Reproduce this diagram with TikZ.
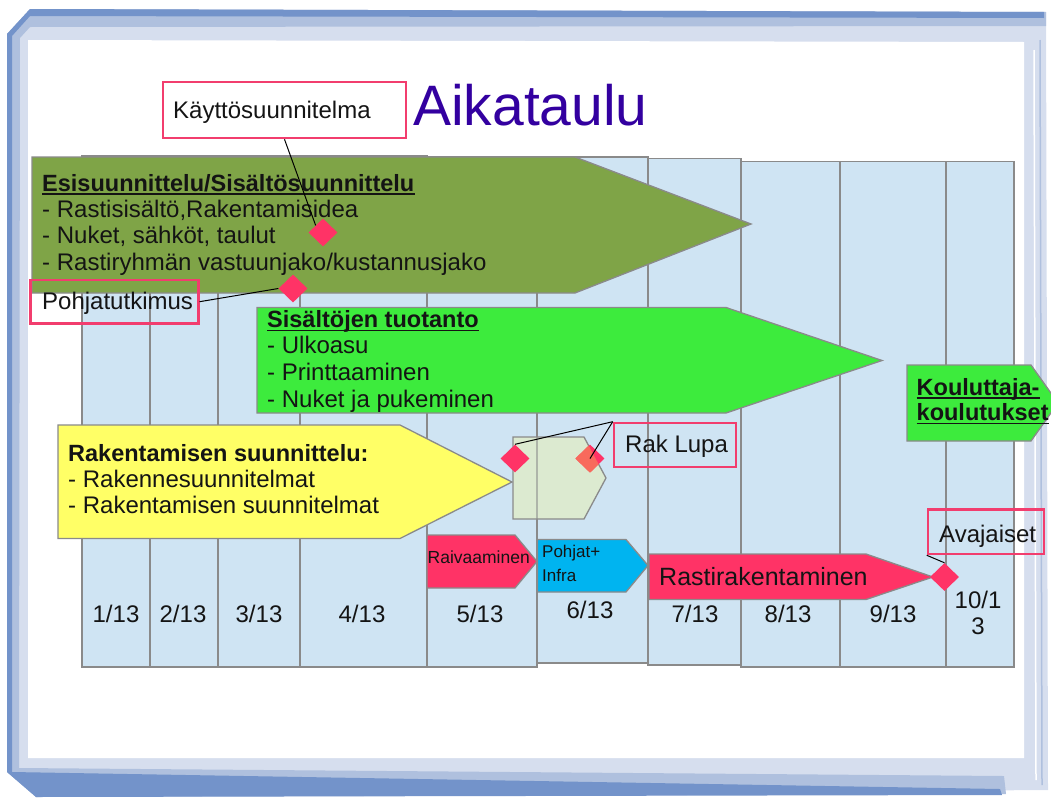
\documentclass[tikz,border=0pt]{standalone}
\usepackage{fontspec}
\setmainfont{Liberation Sans}
\usetikzlibrary{shapes.geometric}
\definecolor{colblue}{HTML}{CFE4F3}
\definecolor{gridgray}{HTML}{8A8A8A}
\definecolor{olive}{HTML}{7FA447}
\definecolor{brightgreen}{HTML}{3DEB3D}
\definecolor{yel}{HTML}{FFFF66}
\definecolor{palegreen}{HTML}{DCEAD0}
\definecolor{pinkc}{HTML}{FF3366}
\definecolor{salmon}{HTML}{F86A5C}
\definecolor{cyanc}{HTML}{00B4F0}
\definecolor{pinkbox}{HTML}{F23D6E}
\definecolor{titlec}{HTML}{3300A0}
\definecolor{txtc}{HTML}{141414}
\definecolor{frmdark}{HTML}{7393CA}
\definecolor{frmmid}{HTML}{AFC0DE}
\definecolor{frmlight}{HTML}{D6DEEE}
\begin{document}
\begin{tikzpicture}[x=1pt,y=-1pt,
  col/.style={fill=colblue,draw=gridgray,line width=1.3pt},
  shp/.style={draw=gridgray,line width=1.3pt},
  dia/.style={diamond,fill=pinkc,minimum width=29pt,minimum height=28pt,inner sep=0pt},
  pbox/.style={draw=pinkbox,line width=2.6pt,inner sep=0pt},
  txt/.style={anchor=base west,inner sep=0pt,font=\fontsize{24}{26}\selectfont,text=txtc},
  btxt/.style={anchor=base west,inner sep=0pt,font=\bfseries\fontsize{23.5}{26}\selectfont,text=txtc},
  lab/.style={anchor=base,inner sep=0pt,font=\fontsize{24}{26}\selectfont,text=txtc},
  stxt/.style={anchor=base west,inner sep=0pt,font=\fontsize{17}{20}\selectfont,text=txtc},
  conn/.style={draw=black,line width=1pt},
  ul/.style={draw=txtc,line width=1.6pt}]
\useasboundingbox (0,0) rectangle (1051,798);
\clip (0,0) rectangle (1051,798);
% frame
\fill[frmlight] (7,34) -- (30,9) -- (1046,12) -- (1048,790) -- (36,797) -- (7,772) -- cycle;
\fill[frmmid] (7,34) -- (30,9) -- (1046,12) -- (1046,26) -- (30,27) -- (20,38) -- (19,768) -- (1004,776) -- (1006,794) -- (36,797) -- (7,772) -- cycle;
\fill[frmdark] (7,34) -- (30,9) -- (1044,12) -- (1044,18) -- (30,16) -- (12,36) -- (12,772) -- (1000,789) -- (1002,795) -- (36,797) -- (7,772) -- cycle;
\fill[white] (28,40) -- (1024,42) -- (1024,758) -- (28,758) -- cycle;
\draw[white,line width=2pt] (47,60) -- (50,750);
\draw[white,line width=1.5pt] (1034,50) -- (1036,780);
\draw[frmmid,line width=1.5pt] (1040,40) -- (1042,785);
% columns
\draw[col] (82,156) rectangle (150,667);
\draw[col] (150,156) rectangle (218,667);
\draw[col] (218,156) rectangle (300,667);
\draw[col] (300,156) rectangle (427,667);
\draw[col] (427,157) rectangle (537,667);
\draw[col] (537,157) rectangle (648,663);
\draw[col] (648,158.5) rectangle (741,665);
\draw[col] (741,161.5) rectangle (840,667);
\draw[col] (840,161.5) rectangle (946,667);
\draw[col] (946,161.5) rectangle (1014,667);
% big arrows
\draw[shp,fill=olive] (32,157) -- (575,157) -- (751,224) -- (575,293) -- (32,293) -- cycle;
\draw[shp,fill=brightgreen] (257,307.5) -- (726,307.5) -- (882,360.5) -- (726,413) -- (257,413) -- cycle;
\draw[shp,fill=brightgreen] (907,365) -- (1031,365) -- (1058,403) -- (1031,441) -- (907,441) -- cycle;
\draw[shp,fill=yel] (58,425) -- (400,425) -- (512,482) -- (400,538.5) -- (58,538.5) -- cycle;
% permit hexagon
\draw[shp,fill=palegreen] (513,437) -- (584,437) -- (606,478) -- (584,519) -- (513,519) -- cycle;
\draw[gridgray,line width=1.3pt,opacity=0.55] (537,437) -- (537,519);
\node[dia] (d4) at (590,458.5) {};
\begin{scope}
\clip (513,437) -- (584,437) -- (606,478) -- (584,519) -- (513,519) -- cycle;
\fill[salmon] (d4.north) -- (d4.east) -- (d4.south) -- (d4.west) -- cycle;
\end{scope}
\node[dia] (d3) at (515,458.5) {};
% small arrows
\draw[shp,fill=pinkc] (427,535) -- (515,535) -- (537,561.5) -- (515,588) -- (427,588) -- cycle;
\draw[shp,fill=cyanc] (537.5,539.5) -- (626,539.5) -- (648,565.5) -- (626,592) -- (537.5,592) -- cycle;
\draw[shp,fill=pinkc] (649,554) -- (866,554) -- (933,577) -- (866,599.5) -- (649,599.5) -- cycle;
% diamonds
\node[dia] (d1) at (323,232.5) {};
\node[dia] (d2) at (293,288.5) {};
\node[dia] (d5) at (944.5,577) {};
% title
\node[anchor=base west,inner sep=0pt,font=\fontsize{57}{60}\selectfont,text=titlec] (title) at (413,125) {Aikataulu};
% olive text
\node[btxt] (t1) at (42,191) {Esisuunnittelu/Sisältösuunnittelu};
\draw[ul] ([yshift=-3pt]t1.base west) -- ([yshift=-3pt]t1.base east);
\node[txt] (t2) at (42,217) {- Rastisisältö,Rakentamisidea};
\node[txt] (t3) at (42,243) {- Nuket, sähköt, taulut};
\node[txt] (t4) at (42,270) {- Rastiryhmän vastuunjako/kustannusjako};
% green text
\node[btxt] (g1) at (267,327.5) {Sisältöjen tuotanto};
\draw[ul] ([yshift=-3pt]g1.base west) -- ([yshift=-3pt]g1.base east);
\node[txt] (g2) at (267,353.5) {- Ulkoasu};
\node[txt] (g3) at (267,380) {- Printtaaminen};
\node[txt] (g4) at (267,407) {- Nuket ja pukeminen};
% kouluttaja
\node[btxt] (k1) at (916.5,395) {Kouluttaja-};
\draw[ul] ([yshift=-3pt]k1.base west) -- ([yshift=-3pt]k1.base east);
\node[btxt] (k2) at (916.5,420.5) {koulutukset};
\draw[ul] ([yshift=-3pt]k2.base west) -- ([yshift=-3pt]k2.base east);
% yellow text
\node[btxt] (y1) at (68,461.5) {Rakentamisen suunnittelu:};
\node[txt] (y2) at (68,487) {- Rakennesuunnitelmat};
\node[txt] (y3) at (68,513) {- Rakentamisen suunnitelmat};
% small arrow text
\node[stxt,font=\fontsize{17.5}{20}\selectfont] (raiv) at (427.5,563) {Raivaaminen};
\node[stxt] (poh1) at (542,557) {Pohjat+};
\node[stxt] (poh2) at (542,581) {Infra};
\node[txt,font=\fontsize{25}{28}\selectfont] (rasti) at (659,585) {Rastirakentaminen};
% column labels
\node[lab] (c1) at (116,622) {1/13};
\node[lab] (c2) at (183,622) {2/13};
\node[lab] (c3) at (259,622) {3/13};
\node[lab] (c4) at (362,622) {4/13};
\node[lab] (c5) at (480,622) {5/13};
\node[lab] (c6) at (590,618) {6/13};
\node[lab] (c7) at (695,622) {7/13};
\node[lab] (c8) at (788,622) {8/13};
\node[lab] (c9) at (893,622) {9/13};
\node[lab] (c10a) at (978,608) {10/1};
\node[lab] (c10b) at (978,634) {3};
% callout boxes
\node[pbox,minimum width=243pt,minimum height=56pt] (kaytto) at (284.5,110) {};
\node[txt] (kayttotxt) at (173,118) {Käyttösuunnitelma};
\node[pbox,minimum width=167.5pt,minimum height=43.5pt] (pohja) at (114.5,301.7) {};
\node[txt] (pohjatxt) at (42,309.5) {Pohjatutkimus};
\node[pbox,minimum width=122pt,minimum height=44pt] (raklupa) at (675,445) {};
\node[txt] (raklupatxt) at (625,452) {Rak Lupa};
\node[pbox,minimum width=116pt,minimum height=44.5pt] (avaj) at (986,531.7) {};
\node[txt] (avajtxt) at (939,542) {Avajaiset};
% connectors
\draw[conn] (kaytto.south) -- (d1.north west);
\draw[conn] (pohja.east) -- (d2.west);
\draw[conn] (raklupa.north west) -- (d3.north);
\draw[conn] (raklupa.north west) -- (d4.center);
\draw[conn] (avaj.south west) -- (d5.north);
\end{tikzpicture}
\end{document}
